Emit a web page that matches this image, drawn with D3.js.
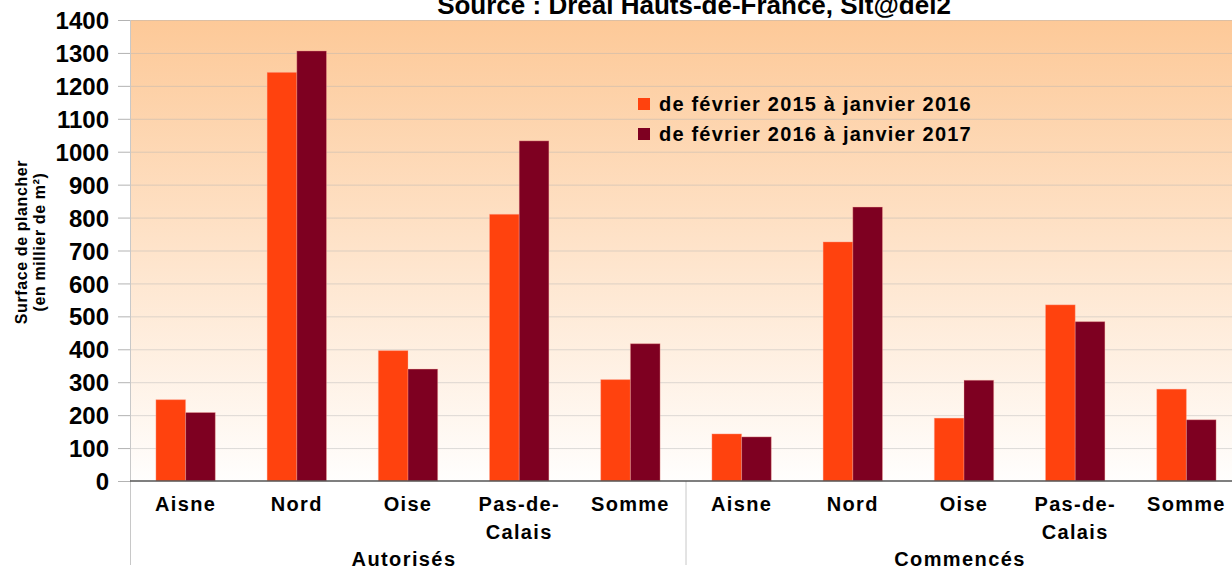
<!DOCTYPE html>
<html>
<head>
<meta charset="utf-8">
<script src="https://cdn.jsdelivr.net/npm/d3@7"></script>
<style>
    body { margin: 0; background: #fff; }
    text { font-family: "Liberation Sans", Arial, sans-serif; font-weight: bold; fill: #000; }
</style>
</head>
<body>
<div id="chart"></div>
<script>
// data
var groupNames = ["Autorisés", "Commencés"];
var categories = ["Aisne", "Nord", "Oise", "Pas-de-Calais", "Somme"];
var categoryLines = [["Aisne"], ["Nord"], ["Oise"], ["Pas-de-", "Calais"], ["Somme"]];
var seriesNames = ["de février 2015 à janvier 2016", "de février 2016 à janvier 2017"];
var values2015 = [247, 1241, 396, 810, 308, 143, 726, 191, 535, 279];
var values2016 = [208, 1306, 340, 1033, 417, 134, 832, 306, 484, 186];
var yTickValues = [0, 100, 200, 300, 400, 500, 600, 700, 800, 900, 1000, 1100, 1200, 1300, 1400];
var colors = ["#ff420e", "#7e0021"];

// set the dimensions and margins of the graph
var margin = {top: 20, right: 0, bottom: 88, left: 130},
    width = 1112,
    height = 461;

var svg = d3.select("#chart").append("svg")
    .attr("width", 1232)
    .attr("height", 569)
    .style("display", "block");

var defs = svg.append("defs");
var grad = defs.append("linearGradient")
    .attr("id", "bg")
    .attr("x1", 0).attr("y1", 0).attr("x2", 0).attr("y2", 1);
grad.append("stop").attr("offset", "0%").attr("stop-color", "#fdc998");
grad.append("stop").attr("offset", "100%").attr("stop-color", "#fffefd");

var g = svg.append("g")
    .attr("transform", "translate(" + margin.left + "," + margin.top + ")");

// scales
var idx = d3.range(values2015.length);
var x0 = d3.scaleBand().domain(idx).range([0, width]).paddingInner(0.466).paddingOuter(0.233);
var x1 = d3.scaleBand().domain([0, 1]).range([0, x0.bandwidth()]);
var y = d3.scaleLinear().domain([0, 1400]).range([height, 0]);

// background
g.append("rect")
    .attr("width", width)
    .attr("height", height)
    .attr("fill", "url(#bg)");

// grid lines
g.selectAll(".grid").data(yTickValues.filter(function (d) { return d > 0; }))
    .enter().append("line")
    .attr("x1", 0).attr("x2", width)
    .attr("y1", function (d) { return y(d) + 0.5; })
    .attr("y2", function (d) { return y(d) + 0.5; })
    .attr("stroke", "#b3b3b3")
    .attr("stroke-opacity", 0.45);

// y axis
var yAxis = g.append("g")
    .call(d3.axisLeft(y).tickValues(yTickValues).tickFormat(d3.format("d")).tickSize(12).tickPadding(9));
yAxis.select(".domain").remove();
yAxis.selectAll("line").attr("stroke", "#b3b3b3");
yAxis.selectAll("text")
    .attr("fill", "#000")
    .style("font-size", "24px")
    .style("font-family", "'Liberation Sans', Arial, sans-serif")
    .style("font-weight", "bold")
    .attr("dy", "0.36em");

// left vertical line and group separator below the axis
g.append("line")
    .attr("x1", 0.5).attr("x2", 0.5)
    .attr("y1", 0).attr("y2", height + 84)
    .attr("stroke", "#c8c8c8");
var sepX = x0.step() * categories.length;
g.append("line")
    .attr("x1", sepX).attr("x2", sepX)
    .attr("y1", height).attr("y2", height + 84)
    .attr("stroke", "#c8c8c8");

// bars
var rows = idx.map(function (i) { return [values2015[i], values2016[i]]; });
var cat = g.selectAll(".cat").data(rows)
    .enter().append("g")
    .attr("transform", function (d, i) { return "translate(" + x0(i) + ",0)"; });
cat.selectAll("rect").data(function (d) { return d; })
    .enter().append("rect")
    .attr("x", function (d, j) { return x1(j); })
    .attr("y", function (d) { return y(d); })
    .attr("width", x1.bandwidth())
    .attr("height", function (d) { return height - y(d); })
    .attr("fill", function (d, j) { return colors[j]; })
    .attr("stroke", "#ffb0a0")
    .attr("stroke-opacity", 0.35)
    .attr("stroke-width", 1);

// x axis line
g.append("line")
    .attr("x1", 0).attr("x2", width)
    .attr("y1", height).attr("y2", height)
    .attr("stroke", "#555")
    .attr("stroke-width", 1.5);

// category labels
idx.forEach(function (i) {
    var lines = categoryLines[i % categories.length];
    var t = g.append("text")
        .attr("text-anchor", "middle")
        .attr("x", x0(i) + x0.bandwidth() / 2)
        .attr("y", height + 30)
        .style("font-size", "20px")
        .style("letter-spacing", "1.3px");
    lines.forEach(function (l, k) {
        t.append("tspan")
            .attr("x", x0(i) + x0.bandwidth() / 2)
            .attr("y", height + 30 + k * 28)
            .text(l);
    });
});

// group labels
groupNames.forEach(function (name, k) {
    g.append("text")
        .attr("text-anchor", "middle")
        .attr("x", sepX * k + sepX / 2 - 4)
        .attr("y", height + 85)
        .style("font-size", "20px")
        .style("letter-spacing", "1.4px")
        .text(name);
});

// legend
var legend = g.selectAll(".legend").data(seriesNames)
    .enter().append("g")
    .attr("transform", function (d, i) { return "translate(508," + (78 + i * 30) + ")"; });
legend.append("rect")
    .attr("width", 12).attr("height", 12)
    .attr("fill", function (d, i) { return colors[i]; });
legend.append("text")
    .attr("x", 21)
    .attr("y", 13)
    .style("font-size", "20px")
    .style("letter-spacing", "1.2px")
    .text(function (d) { return d; });

// y axis title
var yt = svg.append("text")
    .attr("text-anchor", "middle")
    .attr("transform", "translate(27,242)rotate(-90)")
    .style("font-size", "16px")
    .style("letter-spacing", "0.6px");
yt.append("tspan").attr("x", 0).attr("y", 0).text("Surface de plancher");
yt.append("tspan").attr("x", 0).attr("y", 18).text("(en millier de m²)");

// title, cut off at the top as in the original
svg.append("text")
    .attr("text-anchor", "middle")
    .attr("x", 694)
    .attr("y", 14)
    .style("font-size", "26px")
    .text("Source : Dreal Hauts-de-France, Sit@del2");
</script>
</body>
</html>
